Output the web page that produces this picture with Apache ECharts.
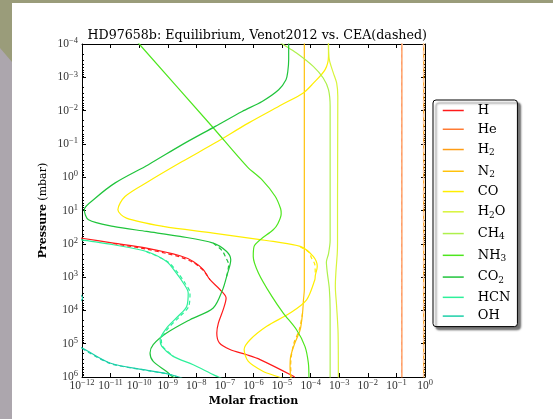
<!DOCTYPE html>
<html>
<head>
<meta charset="utf-8">
<script src="https://cdn.jsdelivr.net/npm/echarts@6/dist/echarts.min.js"></script>
<style>
  html, body { margin: 0; padding: 0; background: #fff; }
  #chart { width: 553px; height: 419px; }
</style>
</head>
<body>
<div id="chart"></div>
<script>
// Equilibrium abundance profiles, each point is [molar fraction, pressure in mbar]
const H = [[3.2e-13, 60], [1.0e-12, 68], [1.26e-11, 95], [1.8e-10, 135], [2.7e-9, 229], [7.8e-9, 339],
  [1.75e-8, 600], [3.0e-8, 1200], [6.8e-8, 2400], [1.1e-7, 4250], [8.7e-8, 9500], [5.9e-8, 2.4e4],
  [5.2e-8, 4.8e4], [6.4e-8, 9.5e4], [1.5e-7, 1.5e5], [5.8e-7, 2.15e5], [1.7e-6, 3.0e5], [2.5e-5, 9.5e5], [2.8e-5, 1.05e6]];
const He = [[0.155, 6e-5], [0.155, 1.2e6]];
const H2 = [[0.9, 6e-5], [0.9, 1.2e6]];
const N2 = [[6.0e-5, 6e-5], [6.0e-5, 2400], [5.6e-5, 4800], [5.2e-5, 1.2e4], [4.3e-5, 3.8e4], [2.8e-5, 9.5e4],
  [2.0e-5, 2.4e5], [1.9e-5, 4.8e5], [2.0e-5, 1.1e6]];
const CO = [[4.2e-4, 6.3e-5], [4.2e-4, 1e-4], [4.2e-4, 2.3e-4], [3.2e-4, 5.9e-4], [1.2e-4, 1.55e-3], [5.5e-5, 2.95e-3],
  [1.0e-5, 6.6e-3], [6.8e-7, 0.0234], [4.6e-8, 0.093], [3.2e-9, 0.34], [2.1e-10, 1.35], [3.2e-11, 3.8],
  [1.8e-11, 9.5], [3.6e-11, 17], [6.9e-10, 30], [3.9e-8, 47.5], [1.7e-6, 75], [4.9e-6, 85], [4.3e-5, 120],
  [1.23e-4, 240], [1.7e-4, 480], [1.45e-4, 900], [1.4e-4, 1200], [7.2e-5, 4800], [1.9e-5, 1.2e4], [2.9e-6, 3.0e4],
  [7.6e-7, 7.6e4], [4.7e-7, 1.5e5], [6.6e-7, 3.4e5], [2.2e-6, 6.8e5], [6.5e-6, 9.5e5], [1.0e-5, 1.1e6]];
const H2O = [[4.2e-4, 6.3e-5], [4.2e-4, 1e-4], [4.5e-4, 2.95e-4], [6.2e-4, 7.4e-4], [8.1e-4, 1.48e-3], [8.9e-4, 3.7e-3],
  [8.7e-4, 4.8], [8.7e-4, 100], [8.5e-4, 200], [7.6e-4, 760], [7.3e-4, 1900], [8.1e-4, 7600], [9.1e-4, 4.8e4], [9.3e-4, 1.1e6]];
const CH4 = [[4.5e-6, 6.3e-5], [1.03e-5, 1e-4], [3.2e-5, 1.86e-4], [1.23e-4, 4.7e-4], [2.75e-4, 1.05e-3], [4.2e-4, 2.35e-3],
  [4.8e-4, 7.4e-3], [4.8e-4, 80], [4.2e-4, 200], [3.55e-4, 355], [3.8e-4, 710], [4.5e-4, 2240], [4.8e-4, 1e4], [4.8e-4, 1.1e6]];
const NH3 = [[6.3e-11, 6.3e-5], [1.0e-10, 1e-4], [3.5e-8, 0.0295], [6.2e-7, 0.5], [2.0e-6, 1.2], [5.8e-6, 3.8],
  [8.9e-6, 8.9], [9.3e-6, 12.6], [7.1e-6, 25], [4.9e-6, 38], [1.7e-6, 76], [1.05e-6, 120], [9.8e-7, 240],
  [1.5e-6, 760], [4.4e-6, 3800], [1.1e-5, 1.2e4], [3.2e-5, 3.8e4], [6.3e-5, 1.2e5], [8.3e-5, 3.8e5], [8.7e-5, 1.1e6]];
const CO2 = [[1.7e-5, 6.3e-5], [1.7e-5, 1e-4], [1.7e-5, 2.95e-4], [1.58e-5, 6.8e-4], [1.37e-5, 1.18e-3],
  [7.6e-6, 2.36e-3], [2.0e-6, 5.3e-3], [4.0e-7, 0.0106], [4.6e-8, 0.0298], [3.2e-9, 0.105], [2.1e-10, 0.42],
  [1.45e-11, 1.48], [2.9e-12, 4.3], [1.2e-12, 9.5], [1.7e-12, 19], [1.23e-11, 30], [1.8e-10, 42.5], [2.7e-9, 60],
  [3.9e-8, 95], [1.15e-7, 170], [1.6e-7, 300], [1.15e-7, 950], [8.3e-8, 2400], [3.9e-8, 8500], [6.0e-9, 1.9e4],
  [9.1e-10, 4.8e4], [3.1e-10, 1.07e5], [2.4e-10, 1.9e5], [3.1e-10, 3.4e5], [9.1e-10, 6.8e5], [1.4e-9, 9.5e5], [1.8e-9, 1.1e6]];
const HCN = [[3.2e-13, 63], [1.0e-12, 76], [1.26e-11, 107], [1.8e-10, 170], [9.1e-10, 339], [2.0e-9, 760],
  [3.5e-9, 1500], [5.2e-9, 3000], [4.6e-9, 7600], [2.3e-9, 1.5e4], [9.1e-10, 3.4e4], [5.4e-10, 7.6e4],
  [6.2e-10, 1.2e5], [1.55e-9, 2.4e5], [7.8e-9, 4.3e5], [3.9e-8, 8.5e5], [8.0e-8, 1.12e6]];
const OH = [[1e-15, 400], [3.2e-13, 2000], [1.05e-12, 4270], [3.2e-13, 8900], [1e-14, 3.2e4], [2.5e-13, 8.9e4],
  [1.0e-12, 1.35e5], [9.5e-12, 3.8e5], [1.4e-10, 6.0e5], [9.1e-10, 7.9e5], [2.0e-9, 9.5e5], [3.2e-9, 1.07e6]];

// CEA equilibrium profiles (dashed), where they part from the Venot2012 ones
const He_cea = [[0.16, 6e-5], [0.16, 1.2e6]];
const H2_cea = [[0.88, 6e-5], [0.88, 1.2e6]];
const H_cea = [[1.26e-11, 98], [1.8e-10, 145], [9.0e-10, 195], [2.7e-9, 250], [7.8e-9, 365], [1.75e-8, 630], [3.0e-8, 1200]];
const HCN_cea = [[1.8e-10, 172], [1.0e-9, 345], [2.3e-9, 760], [4.0e-9, 1500], [6.0e-9, 3000], [5.4e-9, 7600],
  [2.7e-9, 1.5e4], [1.05e-9, 3.4e4], [6.0e-10, 7.6e4], [6.6e-10, 1.2e5], [1.6e-9, 2.4e5]];
const CO2_cea = [[3.9e-8, 97], [8.0e-8, 160], [1.05e-7, 250], [1.35e-7, 420], [1.15e-7, 950]];
const CO_cea = [[4.3e-5, 122], [9.0e-5, 185], [1.05e-4, 260], [1.4e-4, 420], [1.45e-4, 900]];
const N2_cea = [[5.2e-5, 1.2e4], [4.0e-5, 3.8e4], [2.6e-5, 9.5e4], [2.1e-5, 2.4e5], [2.0e-5, 4.8e5], [2.1e-5, 1.1e6]];
const OH_cea = [[1.0e-12, 1.38e5], [9.5e-12, 3.9e5], [1.4e-10, 6.1e5], [9.1e-10, 8.0e5], [2.0e-9, 9.6e5]];

// Species, legend order, line colours
const speciesNames = ['H', 'He', 'H2', 'N2', 'CO', 'H2O', 'CH4', 'NH3', 'CO2', 'HCN', 'OH'];
const speciesData = [H, He, H2, N2, CO, H2O, CH4, NH3, CO2, HCN, OH];
const speciesColors = ['#ff1a1a', '#ff7a33', '#ff9d14', '#ffc20a', '#ffee00', '#d8f43a',
  '#aef04c', '#4ee61e', '#20c43c', '#2ef09a', '#1ccfa8'];
const ceaSets = [['He', He_cea], ['H2', H2_cea], ['H', H_cea], ['HCN', HCN_cea], ['CO2', CO2_cea],
  ['CO', CO_cea], ['N2', N2_cea], ['OH', OH_cea]];

// Axis ticks
const xTicks = [1e-12, 1e-11, 1e-10, 1e-9, 1e-8, 1e-7, 1e-6, 1e-5, 1e-4, 1e-3, 1e-2, 1e-1, 1];
const yTicks = [1e-4, 1e-3, 1e-2, 1e-1, 1, 10, 100, 1e3, 1e4, 1e5, 1e6];
const yMinor = [];
for (let i = 0; i < yTicks.length - 1; i++) {
  for (let m = 2; m <= 9; m++) yMinor.push(yTicks[i] * m);
}

const SERIF = '"DejaVu Serif", "Liberation Serif", serif';
const TICK_FONT = '"Liberation Serif", "DejaVu Serif", serif';
const tickRich = {
  b: { fontFamily: TICK_FONT, fontSize: 11.5, color: '#333', lineHeight: 12 },
  s: { fontFamily: TICK_FONT, fontSize: 8.5, color: '#333', lineHeight: 9, padding: [0, 0, 6, 0] }
};
function powLabel(v) {
  const e = Math.round(Math.log10(v));
  return '{b|10}{s|' + (e < 0 ? '\u2212' + (-e) : String(e)) + '}';
}
const legendLabels = {
  H: '{n|H}', He: '{n|He}', H2: '{n|H}{s|2}', N2: '{n|N}{s|2}', CO: '{n|CO}', H2O: '{n|H}{s|2}{m|O}',
  CH4: '{n|CH}{s|4}', NH3: '{n|NH}{s|3}', CO2: '{n|CO}{s|2}', HCN: '{n|HCN}', OH: '{n|OH}'
};

const frame = { show: true, onZero: false, lineStyle: { color: '#000', width: 1 } };
const xRange = { type: 'log', logBase: 10, min: 1e-12, max: 1, splitLine: { show: false } };
const yRange = { type: 'log', logBase: 10, min: 1e-4, max: 1e6, inverse: true, splitLine: { show: false } };

const series = [];
speciesNames.forEach((name, i) => {
  series.push({
    type: 'line', name: name, data: speciesData[i], symbol: 'none', showSymbol: false,
    smooth: 0.3, clip: true, animation: false, z: 3,
    lineStyle: { color: speciesColors[i], width: 1.2 }, itemStyle: { color: speciesColors[i] }
  });
});
ceaSets.forEach(([name, data]) => {
  const c = speciesColors[speciesNames.indexOf(name)];
  const light = (name === 'He' || name === 'H2');
  series.push({
    type: 'line', name: name + ' (CEA)', data: data, symbol: 'none', showSymbol: false,
    smooth: 0.3, clip: true, animation: false, z: 4,
    lineStyle: { color: light ? '#ffc9a0' : c, width: 1.2, type: [4, 3] }, itemStyle: { color: c }
  });
});

const chart = echarts.init(document.getElementById('chart'), null, { renderer: 'canvas' });
chart.setOption({
  animation: false,
  backgroundColor: '#aca6ad',
  graphic: [
    { type: 'polygon', z: -10, shape: { points: [[0, 0], [553, 0], [553, 3], [12, 3], [12, 62], [0, 48]] },
      style: { fill: '#9a9c7a' } },
    { type: 'rect', z: -10, shape: { x: 12, y: 3, width: 541, height: 416 }, style: { fill: '#ffffff' } }
  ],
  title: {
    text: 'HD97658b: Equilibrium, Venot2012 vs. CEA(dashed)',
    left: 82.5, top: 24,
    textStyle: { fontFamily: SERIF, fontSize: 12.65, fontWeight: 'normal', color: '#000' }
  },
  grid: { left: 82, top: 44, width: 343, height: 333, containLabel: false },
  legend: {
    data: speciesNames, orient: 'vertical', left: 433, top: 100,
    padding: [4, 7, 4, 9], itemGap: 5.76, itemWidth: 21, itemHeight: 14,
    backgroundColor: '#fff', borderColor: '#000', borderWidth: 1, borderRadius: 3,
    shadowColor: 'rgba(0,0,0,0.55)', shadowBlur: 2, shadowOffsetX: 3, shadowOffsetY: 3,
    selectedMode: false,
    itemStyle: { opacity: 0 },
    lineStyle: { width: 1.5 },
    formatter: n => legendLabels[n],
    textStyle: {
      rich: {
        n: { fontFamily: SERIF, fontSize: 13, color: '#000', padding: [0, 0, 0, 9] },
        m: { fontFamily: SERIF, fontSize: 13, color: '#000' },
        s: { fontFamily: SERIF, fontSize: 9, color: '#000', lineHeight: 10, padding: [7, 0, 0, 0] }
      }
    }
  },
  xAxis: [
    Object.assign({}, xRange, {
      position: 'bottom', axisLine: frame,
      axisTick: { show: true, inside: true, length: 4, customValues: xTicks, lineStyle: { color: '#000' } },
      axisLabel: { show: true, customValues: xTicks, formatter: powLabel, rich: tickRich, margin: 2.5,
        showMinLabel: true, showMaxLabel: true, hideOverlap: false },
      name: 'Molar fraction', nameLocation: 'middle', nameGap: 18.5, nameMoveOverlap: false,
      nameTextStyle: { fontFamily: SERIF, fontSize: 11, fontWeight: 'bold', color: '#000' }
    }),
    Object.assign({}, xRange, {
      position: 'top', axisLine: frame,
      axisTick: { show: true, inside: true, length: 4, customValues: xTicks, lineStyle: { color: '#000' } },
      axisLabel: { show: false }
    })
  ],
  yAxis: [
    Object.assign({}, yRange, {
      position: 'left', axisLine: frame,
      axisTick: { show: true, inside: true, length: 4, customValues: yTicks, lineStyle: { color: '#000' } },
      axisLabel: { show: true, customValues: yTicks, formatter: powLabel, rich: tickRich, margin: 4,
        showMinLabel: true, showMaxLabel: true, hideOverlap: false },
      name: '{b|Pressure} {n|(mbar)}', nameLocation: 'middle', nameGap: 32.5, nameRotate: 90,
      nameMoveOverlap: false,
      nameTextStyle: {
        rich: {
          b: { fontFamily: SERIF, fontSize: 11, fontWeight: 'bold', color: '#000' },
          n: { fontFamily: SERIF, fontSize: 11, color: '#000' }
        }
      }
    }),
    Object.assign({}, yRange, {
      position: 'left', axisLine: { show: false },
      axisTick: { show: true, inside: true, length: 2, customValues: yMinor, lineStyle: { color: '#000' } },
      axisLabel: { show: false }
    }),
    Object.assign({}, yRange, {
      position: 'right', axisLine: frame,
      axisTick: { show: true, inside: true, length: 4, customValues: yTicks, lineStyle: { color: '#000' } },
      axisLabel: { show: false }
    }),
    Object.assign({}, yRange, {
      position: 'right', axisLine: { show: false },
      axisTick: { show: true, inside: true, length: 2, customValues: yMinor, lineStyle: { color: '#000' } },
      axisLabel: { show: false }
    })
  ],
  series: series
});
</script>
</body>
</html>
